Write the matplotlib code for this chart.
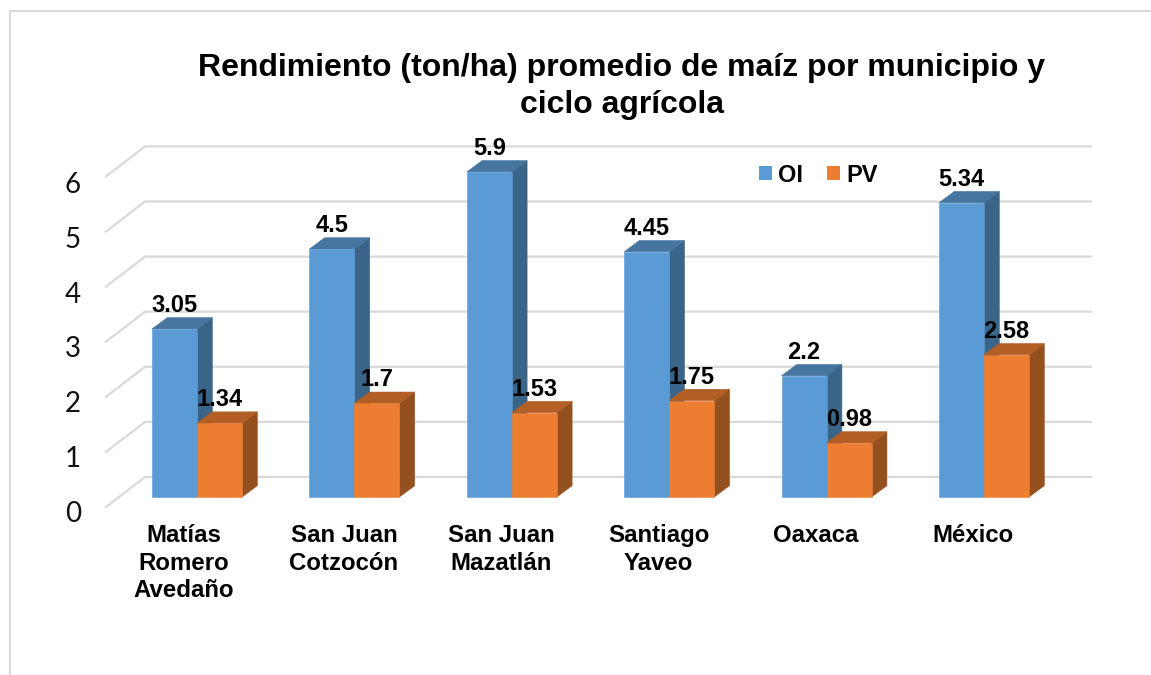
import matplotlib
matplotlib.use("Agg")
import matplotlib.pyplot as plt
from matplotlib.lines import Line2D
from matplotlib.patches import Patch, Polygon

categories = ["Matías\nRomero\nAvedaño", "San Juan\nCotzocón", "San Juan\nMazatlán",
              "Santiago\nYaveo", "Oaxaca", "México"]
oi_values = [3.05, 4.5, 5.9, 4.45, 2.2, 5.34]
pv_values = [1.34, 1.7, 1.53, 1.75, 0.98, 2.58]
oi_labels = ["3.05", "4.5", "5.9", "4.45", "2.2", "5.34"]
pv_labels = ["1.34", "1.7", "1.53", "1.75", "0.98", "2.58"]
y_ticks = [0, 1, 2, 3, 4, 5, 6]
series_names = ["OI", "PV"]
title = "Rendimiento (ton/ha) promedio de maíz por municipio y\nciclo agrícola"

W, H = 1151, 675
X0, XSTEP = 197.0, 157.4    # pixel of first category axis point, pixels per category
Y0, YSTEP = 497.0, 55.1     # pixel of value 0, pixels per unit
px_x = 1 / XSTEP
px_y = 1 / YSTEP

plt.rcParams["font.family"] = ["Liberation Sans"]
fig = plt.figure(figsize=(W / 100, H / 100), dpi=100, facecolor="white")
ax = fig.add_axes([0, 0, 1, 1])
ax.set_xlim(-X0 / XSTEP, (W - X0) / XSTEP)
ax.set_ylim(-(H - Y0) / YSTEP, Y0 / YSTEP)
ax.axis("off")

# figure frame
frame = "#D9D9D9"
fig.add_artist(Line2D([10 / W, 10 / W, 1], [0, 1 - 10.5 / H, 1 - 10.5 / H],
                      transform=fig.transFigure, color=frame, lw=1.5))

# wall gridlines + floor diagonals
grid = "#D9D9D9"
wx0 = (145 - X0) * px_x
wx1 = (1091 - X0) * px_x
fx0 = (106 - X0) * px_x
wall_up = 20 * px_y
front_down = -10 * px_y
for v in y_ticks:
    ax.plot([fx0, wx0, wx1], [v + front_down, v + wall_up, v + wall_up],
            color=grid, lw=1.6, zorder=1, solid_joinstyle="miter")
    ax.text((73 - X0) * px_x, (Y0 - (522 - 54.85 * v)) * px_y, str(v), family="Lato",
            fontsize=20, ha="center", va="baseline", color="#111111")

BAR = 45.0 * px_x
DX = 15.3 * px_x
DY = 11.3 * px_y


def bar3d(x, v, front, top, side, z):
    ax.add_patch(Polygon([(x + BAR, 0), (x + BAR + DX, DY), (x + BAR + DX, v + DY), (x + BAR, v)],
                         closed=True, fc=side, ec=side, lw=0.4, zorder=z))
    ax.add_patch(Polygon([(x, v), (x + DX, v + DY), (x + BAR + DX, v + DY), (x + BAR, v)],
                         closed=True, fc=top, ec=top, lw=0.4, zorder=z))
    ax.add_patch(Polygon([(x, 0), (x + BAR, 0), (x + BAR, v), (x, v)],
                         closed=True, fc=front, ec=front, lw=0.4, zorder=z + 0.1))


BLUE = ("#5B9BD5", "#4675A0", "#3B6588")
ORANGE = ("#ED7D31", "#B25E25", "#95501F")
for i, (a, b) in enumerate(zip(oi_values, pv_values)):
    bar3d(i - BAR, a, *BLUE, 2 + i)
    bar3d(i, b, *ORANGE, 2.5 + i)
    ax.text(i - BAR / 2, a + 17 * px_y, oi_labels[i], fontsize=17, fontweight="bold",
            ha="center", va="baseline", color="black", zorder=20)
    ax.text(i + BAR / 2, b + 17 * px_y, pv_labels[i], fontsize=17, fontweight="bold",
            ha="center", va="baseline", color="black", zorder=20)
    n_lines = categories[i].count("\n")
    nudge = -13.5 if n_lines == 2 else -10.5
    ax.text(i + nudge * px_x, (Y0 - (542 + 27.5 * n_lines)) * px_y, categories[i],
            fontsize=17.3, fontweight="bold", ha="center", va="baseline", color="black",
            linespacing=1.243, zorder=20)

fig.text(622 / W, 1 - 113 / H, title, fontsize=23, fontweight="bold", ha="center",
         va="baseline", color="black", linespacing=1.29)

handles = [Patch(fc=BLUE[0], ec="none"), Patch(fc=ORANGE[0], ec="none")]
fig.legend(handles, series_names, loc="center left", bbox_to_anchor=(759 / W, 1 - 175 / H),
           ncols=2, frameon=False, borderpad=0, borderaxespad=0,
           handlelength=0.55, handleheight=0.55, handletextpad=0.27, columnspacing=1.02,
           prop={"weight": "bold", "size": 17})

fig.savefig("out.png", dpi=100)
